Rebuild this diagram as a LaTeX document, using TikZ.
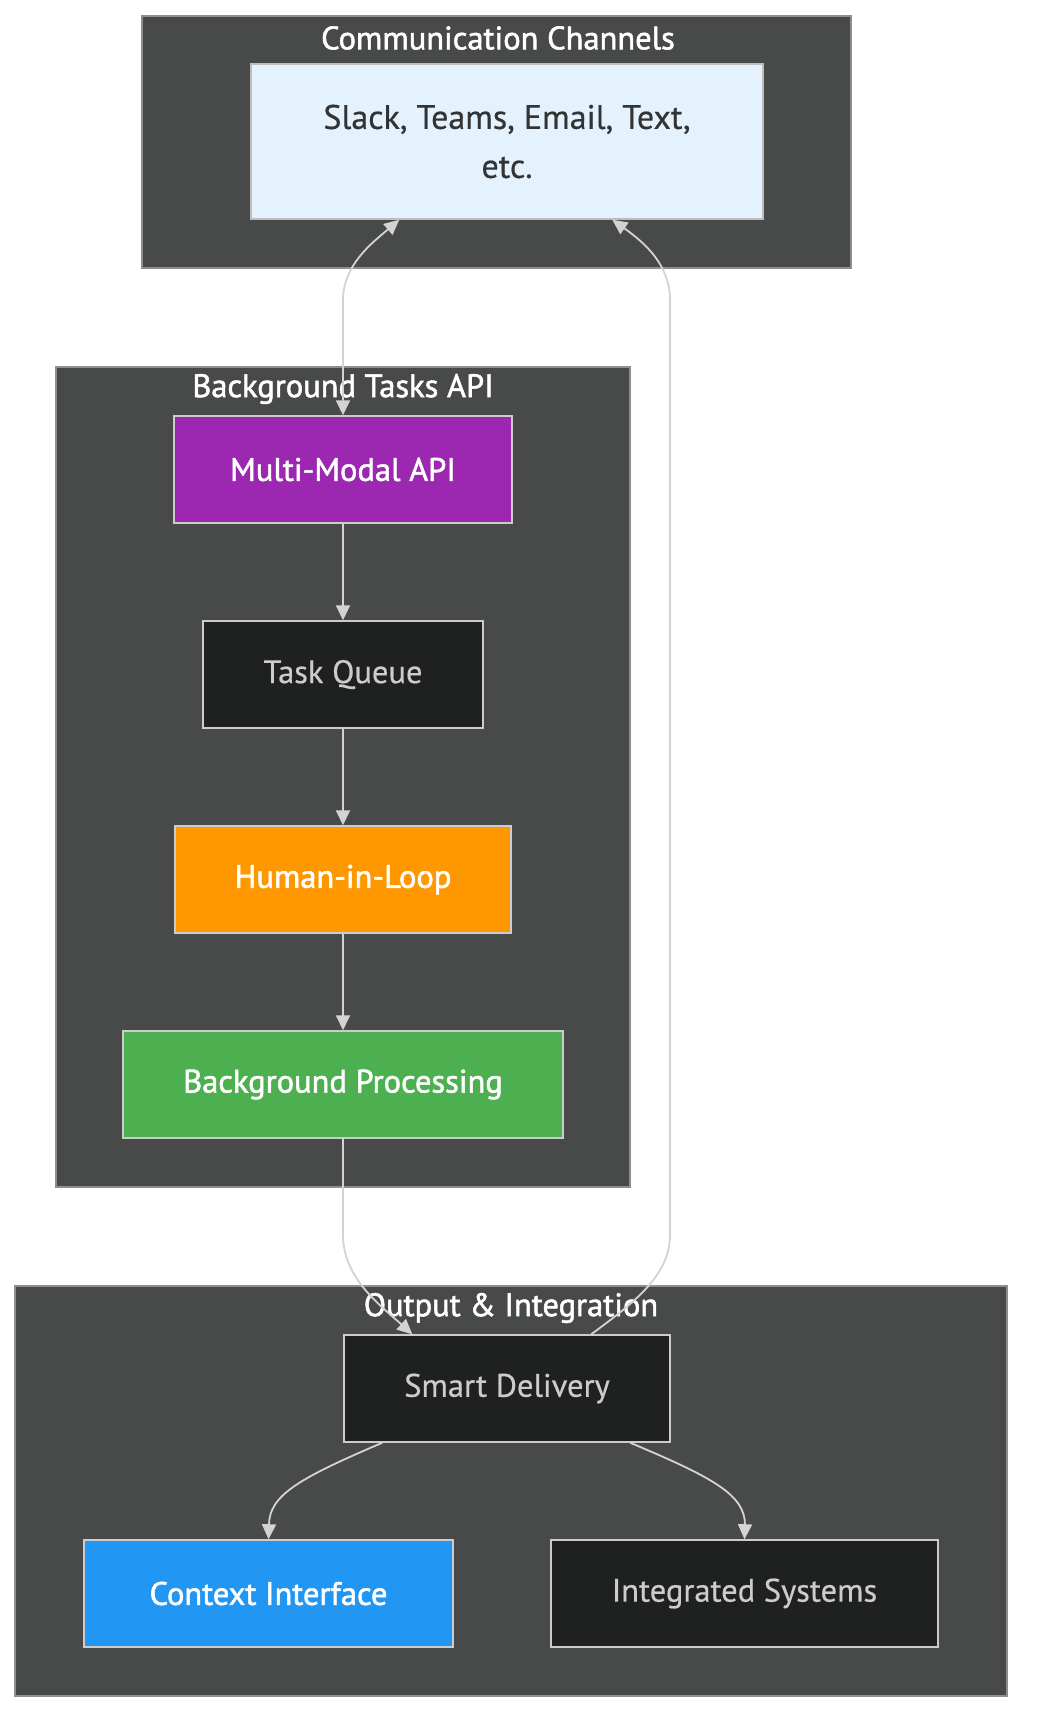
\documentclass[tikz,border=0pt]{standalone}
\usepackage{fontspec}
\setmainfont{PT Sans}
\newfontface\heavyfont{PT Sans}[FakeBold=0.5]
\newfontface\whitefont{PT Sans}[FakeBold=1.6]
\usepackage{xcolor}
\usepackage{tikz}
\usetikzlibrary{arrows.meta}
\usetikzlibrary{calc}

\definecolor{clusterbg}{HTML}{484A49}
\definecolor{clusterline}{HTML}{8E8E8E}
\definecolor{nodedark}{HTML}{1F2020}
\definecolor{nodeline}{HTML}{CCCCCC}
\definecolor{linkgrey}{HTML}{D3D3D3}
\definecolor{chanfill}{HTML}{E3F2FD}
\definecolor{chanline}{HTML}{BDBDBD}
\definecolor{apipurple}{HTML}{9C27B0}
\definecolor{looporange}{HTML}{FF9800}
\definecolor{procgreen}{HTML}{4CAF50}
\definecolor{ctxblue}{HTML}{2196F3}

\tikzset{
  box/.style={draw=nodeline, line width=1.5pt, minimum height=107pt, inner sep=0pt,
    font=\heavyfont\fontsize{32.5}{49}\selectfont},
  darkbox/.style={box, fill=nodedark, text=nodeline},
  colbox/.style={box, fill=#1, text=white, font=\whitefont\fontsize{32.5}{49}\selectfont},
  cluster/.style={draw=clusterline, line width=1.5pt, fill=clusterbg, inner sep=0pt},
  grouptitle/.style={text=white, font=\whitefont\fontsize{32.5}{38}\selectfont},
  link/.style={draw=linkgrey, line width=1.8pt},
}

\begin{document}
\begin{tikzpicture}[x=1pt, y=-1pt, >={Triangle[length=15pt,width=14pt]}]
  \useasboundingbox (0,0) rectangle (1040,1736);
  \fill[white] (0,0) rectangle (1040,1736);

  % Groups
  \node[cluster, minimum width=709pt, minimum height=252pt] (commgroup) at (496.5,142) {};
  \node[cluster, minimum width=574pt, minimum height=820pt] (taskgroup) at (343,777) {};
  \node[cluster, minimum width=992pt, minimum height=410pt] (outgroup) at (511,1491) {};
  \node[grouptitle] (commtitle) at (498,38) {Communication Channels};
  \node[grouptitle] (tasktitle) at (343,389) {Background Tasks API};
  \node[grouptitle] (outtitle) at (511,1308) {Output \& Integration};

  % Communication Channels
  \node[box, fill=chanfill, draw=chanline, text=black!80, align=center,
        font=\heavyfont\fontsize{34}{49}\selectfont,
        minimum width=512pt, minimum height=155pt] (slack) at (507,141.5)
        {Slack, Teams, Email, Text,\\etc.};

  % Background Tasks API
  \node[colbox=apipurple, minimum width=338pt] (mm) at (343,469.5) {Multi-Modal API};
  \node[darkbox, minimum width=280pt] (tq) at (343,674.5) {Task Queue};
  \node[colbox=looporange, minimum width=336pt] (hil) at (343,879.5) {Human-in-Loop};
  \node[colbox=procgreen, minimum width=440pt] (bp) at (343,1084.5) {Background Processing};

  % Output & Integration
  \node[darkbox, minimum width=326pt] (sd) at (507,1388.5) {Smart Delivery};
  \node[colbox=ctxblue, minimum width=369pt] (ctx) at (268.5,1593.5) {Context Interface};
  \node[darkbox, minimum width=387pt] (integ) at (744.5,1593.5) {Integrated Systems};

  % Links
  \draw[link, <->] ([xshift=149pt]slack.south west) .. controls (372,243) and (343,265) .. (343,300) -- (mm.north);
  \draw[link, ->] (mm) -- (tq);
  \draw[link, ->] (tq) -- (hil);
  \draw[link, ->] (hil) -- (bp);
  \draw[link, ->] (bp.south) -- (343,1235) .. controls (343,1278) and (380,1305) .. ([xshift=69pt]sd.north west);
  \draw[link, ->] ([xshift=248pt]sd.north west) .. controls (635,1302) and (670,1275) .. (670,1235)
        -- (670,300) .. controls (670,265) and (645,243) .. ([xshift=362pt]slack.south west);
  \draw[link, ->] ([xshift=39pt]sd.south west) .. controls (300,1478) and (269,1495) .. (269,1525) -- (ctx.north);
  \draw[link, ->] ([xshift=287pt]sd.south west) .. controls (714,1478) and (745,1495) .. (745,1525) -- (integ.north);
\end{tikzpicture}
\end{document}
